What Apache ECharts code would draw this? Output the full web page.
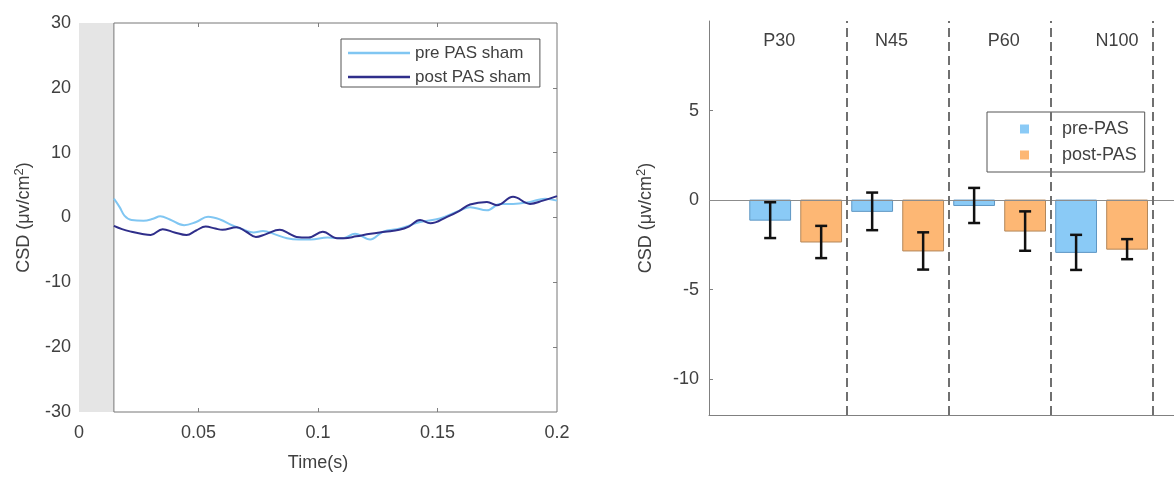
<!DOCTYPE html>
<html>
<head>
<meta charset="utf-8">
<script src="https://cdn.jsdelivr.net/npm/echarts@6/dist/echarts.min.js"></script>
<style>
  html, body { margin: 0; padding: 0; background: #fff; }
  #chart { width: 1174px; height: 477px; }
</style>
</head>
<body>
<div id="chart"></div>
<script>
// left panel: CSD time course (sham)
const timePre = [0.0146, 0.017, 0.019, 0.022, 0.027, 0.031, 0.034, 0.038, 0.044, 0.049, 0.054, 0.059, 0.064,
  0.069, 0.073, 0.077, 0.082, 0.087, 0.092, 0.097, 0.104, 0.1105, 0.1155, 0.1218, 0.1272, 0.1343, 0.1427,
  0.151, 0.1594, 0.1636, 0.1707, 0.1762, 0.1816, 0.1887, 0.195, 0.2];
const valuePre = [2.9, 1.6, 0.3, -0.4, -0.5, -0.2, 0.2, -0.3, -1.2, -0.7, 0.1, -0.3, -1.2,
  -1.9, -2.3, -2.1, -2.6, -3.2, -3.4, -3.4, -3.1, -3.2, -2.5, -3.4, -2.2, -1.7, -0.7,
  -0.15, 1.1, 1.6, 1.1, 2.1, 2.1, 2.4, 2.9, 2.6];

const timePost = [0.0146, 0.018, 0.022, 0.026, 0.030, 0.035, 0.040, 0.045, 0.049, 0.053, 0.057, 0.060, 0.066,
  0.070, 0.074, 0.078, 0.084, 0.088, 0.091, 0.096, 0.102, 0.108, 0.111, 0.116, 0.122, 0.128, 0.134, 0.138,
  0.1427, 0.147, 0.154, 0.159, 0.1636, 0.1707, 0.1749, 0.1816, 0.1887, 0.1941, 0.2];
const valuePost = [-1.3, -1.8, -2.2, -2.5, -2.7, -1.8, -2.3, -2.7, -2.0, -1.4, -1.7, -1.9, -1.5,
  -2.2, -3.0, -2.6, -1.9, -2.5, -3.0, -3.1, -2.2, -3.2, -3.2, -2.9, -2.5, -2.2, -1.9, -1.4,
  -0.4, -0.9, 0.1, 1.0, 2.0, 2.4, 1.9, 3.2, 2.1, 2.6, 3.3];

const baselineEnd = 0.0146; // grey pre-stimulus band

// right panel: component means +/- error
const components = ['P30', 'N45', 'P60', 'N100'];
const componentLabelX = [0.84, 1.94, 3.04, 4.15];
const preMean = [-1.12, -0.63, -0.3, -2.92];
const preErr = [1.0, 1.05, 0.98, 0.98];
const postMean = [-2.34, -2.84, -1.73, -2.74];
const postErr = [0.9, 1.04, 1.1, 0.56];
const groupEdges = [1.5, 2.5, 3.5, 4.5];

const FONT = 'Liberation Sans, Arial, sans-serif';
const TXT = '#404040';
const AX = '#808080';
const PRE_LINE = '#80c6f2';
const POST_LINE = '#2f2e8a';
const PRE_BAR = '#8acaf6';
const POST_BAR = '#fdb774';

const chart = echarts.init(document.getElementById('chart'));

function barRenderer(fill, stroke) {
    return function (params, api) {
        const x = api.value(0), v = api.value(1);
        const a = api.coord([x - 0.2, 0]);
        const b = api.coord([x + 0.2, v]);
        return {
            type: 'rect',
            shape: { x: a[0], y: Math.min(a[1], b[1]), width: b[0] - a[0], height: Math.abs(b[1] - a[1]) },
            style: { fill: fill, stroke: stroke, lineWidth: 1 }
        };
    };
}

function errRenderer(params, api) {
    const x = api.value(0), m = api.value(1), e = api.value(2);
    const top = api.coord([x, m + e]);
    const bot = api.coord([x, m - e]);
    const st = { stroke: '#111', lineWidth: 2.5 };
    return {
        type: 'group',
        children: [
            { type: 'line', shape: { x1: top[0], y1: top[1], x2: bot[0], y2: bot[1] }, style: st },
            { type: 'line', shape: { x1: top[0] - 6, y1: top[1], x2: top[0] + 6, y2: top[1] }, style: st },
            { type: 'line', shape: { x1: bot[0] - 6, y1: bot[1], x2: bot[0] + 6, y2: bot[1] }, style: st }
        ]
    };
}

const preBars = preMean.map((v, i) => [i + 1 - 0.25, v]);
const postBars = postMean.map((v, i) => [i + 1 + 0.25, v]);
const errData = preMean.map((v, i) => [i + 1 - 0.25, v, preErr[i]])
    .concat(postMean.map((v, i) => [i + 1 + 0.25, v, postErr[i]]));

const csdName = 'CSD (μv/cm{sup|2})';
const nameStyle = {
    fontFamily: FONT, fontSize: 18, color: TXT,
    rich: { sup: { fontFamily: FONT, fontSize: 13, color: TXT, padding: [0, 0, 9, 0] } }
};

const option = {
    animation: false,
    textStyle: { fontFamily: FONT },
    grid: [
        { left: 79, top: 23, width: 478, height: 392 },
        { left: 709, top: 21, right: 0, height: 394 }
    ],
    legend: [
        {
            data: [
                { name: 'pre PAS sham', icon: 'rect', itemStyle: { color: PRE_LINE } },
                { name: 'post PAS sham', icon: 'rect', itemStyle: { color: POST_LINE } }
            ],
            orient: 'vertical', left: 341, top: 39,
            itemWidth: 62, itemHeight: 2.5, itemGap: 4,
            padding: [4, 9, 0, 7],
            borderColor: '#555', borderWidth: 1,
            textStyle: { fontFamily: FONT, fontSize: 17, color: TXT, lineHeight: 20 }
        },
        {
            data: [
                { name: 'pre-PAS', icon: 'rect', itemStyle: { color: PRE_BAR, borderWidth: 0 } },
                { name: 'post-PAS', icon: 'rect', itemStyle: { color: POST_BAR, borderWidth: 0 } }
            ],
            orient: 'vertical', left: 987, top: 112,
            itemWidth: 9, itemHeight: 9, itemGap: 8,
            padding: [8, 8, 8, 33],
            borderColor: '#555', borderWidth: 1,
            textStyle: { fontFamily: FONT, fontSize: 18, color: TXT, padding: [0, 0, 0, 28] }
        }
    ],
    xAxis: [
        {
            gridIndex: 0, type: 'value', min: 0, max: 0.2, interval: 0.05,
            axisLine: { show: false, onZero: false },
            axisTick: { inside: true, length: 4, customValues: [0.05, 0.1, 0.15], lineStyle: { color: AX } },
            axisLabel: { fontSize: 18, color: TXT, margin: 12, formatter: v => String(parseFloat(v.toFixed(2))) },
            splitLine: { show: false },
            name: 'Time(s)', nameLocation: 'middle', nameGap: 42,
            nameTextStyle: { fontFamily: FONT, fontSize: 18, color: TXT }
        },
        {
            gridIndex: 0, type: 'value', position: 'top', min: 0, max: 0.2,
            axisLine: { show: false, onZero: false },
            axisTick: { inside: true, length: 4, customValues: [0.05, 0.1, 0.15], lineStyle: { color: AX } },
            axisLabel: { show: false },
            splitLine: { show: false }
        },
        {
            gridIndex: 1, type: 'value', min: 0.15, max: 4.71,
            axisLine: { show: true, onZero: false, lineStyle: { color: AX, width: 1 } },
            axisTick: { show: false },
            axisLabel: { show: false },
            splitLine: { show: false }
        }
    ],
    yAxis: [
        {
            gridIndex: 0, type: 'value', min: -30, max: 30, interval: 10,
            axisLine: { show: false, onZero: false },
            axisTick: { show: false },
            axisLabel: { fontSize: 18, color: TXT, margin: 8 },
            splitLine: { show: false },
            name: csdName, nameLocation: 'middle', nameGap: 44, nameTextStyle: nameStyle
        },
        {
            gridIndex: 0, type: 'value', position: 'right', min: -30, max: 30,
            axisLine: { show: false, onZero: false },
            axisTick: { inside: true, length: 4, customValues: [-20, -10, 0, 10, 20], lineStyle: { color: AX } },
            axisLabel: { show: false },
            splitLine: { show: false }
        },
        {
            gridIndex: 1, type: 'value', min: -12, max: 10,
            axisLine: { show: true, onZero: false, lineStyle: { color: AX, width: 1 } },
            axisTick: { inside: true, length: 4, customValues: [-10, -5, 0, 5], lineStyle: { color: AX } },
            axisLabel: { fontSize: 18, color: TXT, margin: 10, customValues: [-10, -5, 0, 5] },
            splitLine: { show: false },
            name: csdName, nameLocation: 'middle', nameGap: 52, nameTextStyle: nameStyle
        }
    ],
    series: [
        {
            name: 'pre PAS sham', type: 'line', xAxisIndex: 0, yAxisIndex: 0,
            data: timePre.map((t, i) => [t, valuePre[i]]),
            smooth: 0.4, symbol: 'none', color: PRE_LINE,
            lineStyle: { width: 2, color: PRE_LINE },
            markArea: {
                silent: true,
                data: [
                    [{ coord: [0, 30], itemStyle: { color: '#e5e5e5' } }, { coord: [baselineEnd, -30] }],
                    [{ coord: [baselineEnd, 30], itemStyle: { color: 'rgba(0,0,0,0)', borderColor: '#777', borderWidth: 1 } }, { coord: [0.2, -30] }]
                ]
            },
            z: 3
        },
        {
            name: 'post PAS sham', type: 'line', xAxisIndex: 0, yAxisIndex: 0,
            data: timePost.map((t, i) => [t, valuePost[i]]),
            smooth: 0.4, symbol: 'none', color: POST_LINE,
            lineStyle: { width: 2, color: POST_LINE },
            z: 4
        },
        {
            name: 'pre-PAS', type: 'custom', xAxisIndex: 2, yAxisIndex: 2,
            data: preBars, renderItem: barRenderer(PRE_BAR, '#5f97c4'),
            itemStyle: { color: PRE_BAR },
            markLine: {
                silent: true, symbol: 'none', label: { show: false },
                data: [{ yAxis: 0, lineStyle: { color: '#8c8c8c', width: 1, type: 'solid' } }]
                    .concat(groupEdges.map(x => ({ xAxis: x, lineStyle: { color: '#707070', width: 2, type: [9, 5] } })))
            },
            z: 2
        },
        {
            name: 'post-PAS', type: 'custom', xAxisIndex: 2, yAxisIndex: 2,
            data: postBars, renderItem: barRenderer(POST_BAR, '#b3875a'),
            itemStyle: { color: POST_BAR },
            z: 2
        },
        {
            name: 'err', type: 'custom', xAxisIndex: 2, yAxisIndex: 2,
            data: errData, renderItem: errRenderer, z: 5
        },
        {
            name: 'components', type: 'custom', xAxisIndex: 2, yAxisIndex: 2,
            data: components.map((c, i) => [componentLabelX[i], 8.9]),
            renderItem: function (params, api) {
                const p = api.coord([api.value(0), api.value(1)]);
                return {
                    type: 'text',
                    style: {
                        text: components[params.dataIndex], x: p[0], y: p[1],
                        align: 'center', verticalAlign: 'middle',
                        fontFamily: FONT, fontSize: 18, fill: TXT
                    }
                };
            },
            z: 5
        }
    ]
};

chart.setOption(option);
</script>
</body>
</html>
